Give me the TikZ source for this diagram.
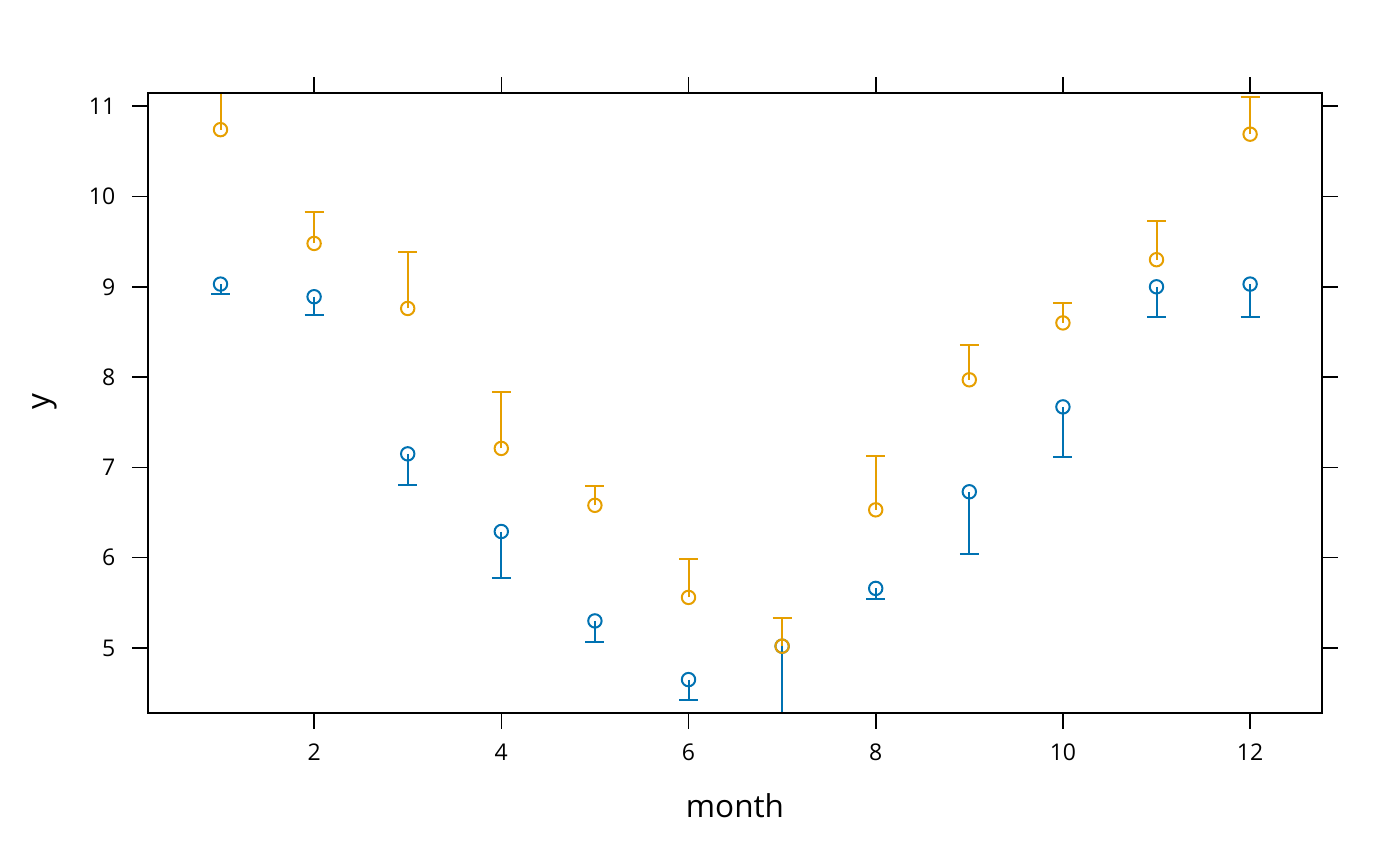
\documentclass[tikz,border=0pt]{standalone}
\usepackage{fontspec}
\setmainfont{Open Sans}
\definecolor{gold}{HTML}{E69F00}
\definecolor{navy}{HTML}{0072B2}

\begin{document}
\begin{tikzpicture}[x=1pt,y=1pt,
    frame/.style={line width=1.6pt, black},
    bar/.style={line width=2pt},
    ticklab/.style={font=\fontsize{23}{23}\selectfont, inner sep=0pt},
    axislab/.style={font=\fontsize{31.5}{31.5}\selectfont, inner sep=0pt}]

    \useasboundingbox (0,0) rectangle (1400,866);

    % Axis titles
    \node (xlab) [axislab] at (735,60.5) {month};
    \node (ylab) [axislab, rotate=90] at (45,464) {y};

    \begin{scope}[shift={(126.9,-233.5)}, x=93.6pt, y=90.3pt]

        % Panel corners
        \coordinate (ll) at (0.2254,4.280);
        \coordinate (ur) at (12.768,11.146);

        % Points with one-sided bars
        \begin{scope}
            \clip (ll) rectangle (ur);
            \foreach \m/\v/\e in {1/9.03/8.92, 2/8.89/8.69, 3/7.15/6.81,
                4/6.29/5.77, 5/5.30/5.07, 6/4.65/4.42, 7/5.02/4.27,
                8/5.66/5.54, 9/6.73/6.04, 10/7.67/7.12, 11/9.00/8.66,
                12/9.03/8.66} {
                \draw[navy, bar] (\m,\v) -- (\m,\e) ++(-9.5pt,0) -- ++(19pt,0);
                \draw[navy, bar] (\m,\v) circle[radius=6.7pt];
            }
            \foreach \m/\v/\e in {1/10.74/11.15, 2/9.48/9.83, 3/8.76/9.38,
                4/7.21/7.83, 5/6.58/6.79, 6/5.56/5.98, 7/5.02/5.33,
                8/6.53/7.13, 9/7.97/8.36, 10/8.60/8.82, 11/9.30/9.73,
                12/10.69/11.10} {
                \draw[gold, bar] (\m,\v) -- (\m,\e) ++(-9.5pt,0) -- ++(19pt,0);
                \draw[gold, bar] (\m,\v) circle[radius=6.7pt];
            }
        \end{scope}

        \draw[frame] (ll) rectangle (ur);

        % Ticks and tick labels
        \foreach \m in {2,4,...,12} {
            \draw[frame] (\m,4.280) -- ++(0,-16pt)
                node (xt\m) [ticklab, below=14pt] {\m};
            \draw[frame] (\m,11.146) -- ++(0,16pt);
        }
        \foreach \k in {5,...,11} {
            \draw[frame] (0.2254,\k) -- ++(-16pt,0)
                node (yt\k) [ticklab, left=16pt] {\k};
            \draw[frame] (12.768,\k) -- ++(16pt,0);
        }

    \end{scope}

\end{tikzpicture}
\end{document}
